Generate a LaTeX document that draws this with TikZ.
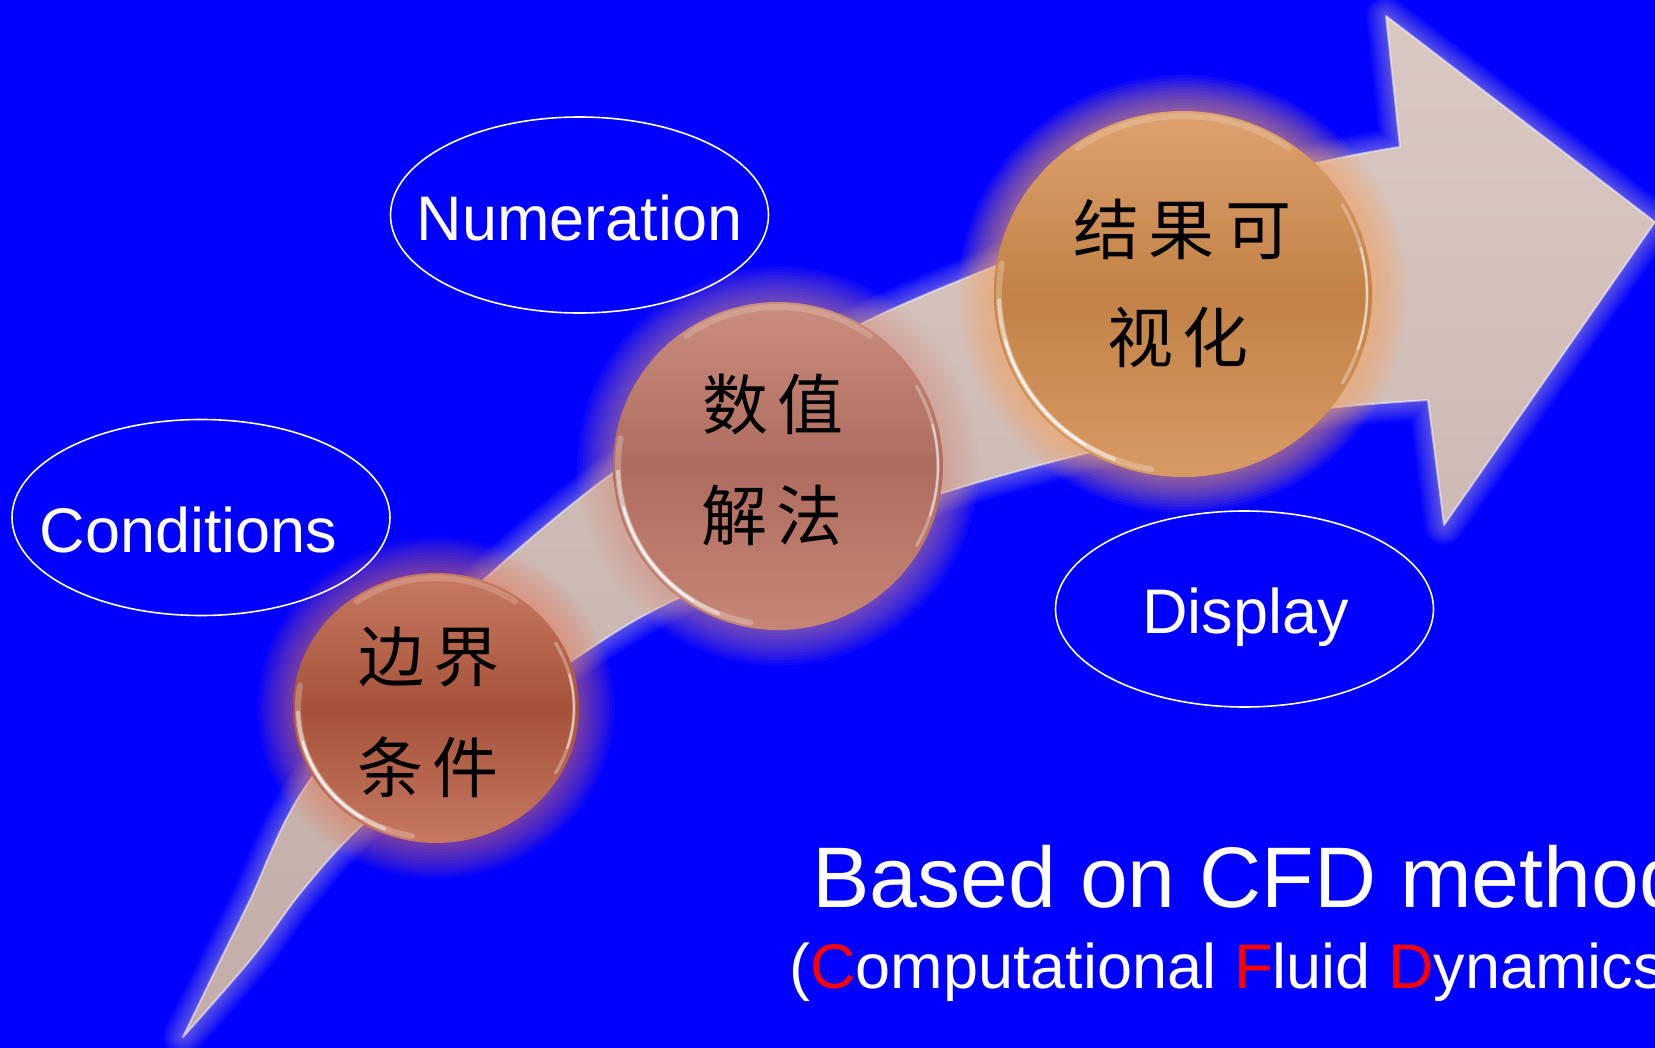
\documentclass[tikz,border=0pt]{standalone}
\usepackage{fontspec}
\setmainfont{Liberation Sans}
\newfontfamily\cjk{Noto Sans CJK SC}
\usetikzlibrary{shapes.geometric}
\definecolor{bgblue}{RGB}{0,0,255}
\definecolor{arrtop}{RGB}{218,200,194}
\definecolor{arrbot}{RGB}{194,172,167}
\definecolor{arrglow}{RGB}{215,195,205}
\definecolor{gA}{RGB}{235,125,95}
\definecolor{gB}{RGB}{225,150,135}
\definecolor{gC}{RGB}{250,165,100}
\definecolor{aTop}{RGB}{200,122,98}
\definecolor{aMid}{RGB}{166,82,58}
\definecolor{aBot}{RGB}{198,120,96}
\definecolor{bTop}{RGB}{202,142,126}
\definecolor{bMid}{RGB}{174,108,94}
\definecolor{bBot}{RGB}{198,134,118}
\definecolor{cTop}{RGB}{222,162,112}
\definecolor{cMid}{RGB}{194,130,70}
\definecolor{cBot}{RGB}{216,154,100}
\tikzset{
  disc/.style={ellipse, inner sep=0pt},
  oval/.style={ellipse, draw=white, line width=0.8pt, inner sep=0pt, minimum width=189pt, minimum height=98pt},
  lab/.style={anchor=base, text=white, inner sep=0pt, font=\fontsize{31.5pt}{32pt}\selectfont},
  cn/.style={text=black, inner sep=0pt, font=\cjk\fontsize{33pt}{33pt}\selectfont},
  hl/.style={draw=white, line width=1.6pt, line cap=round},
}
\def\arrowpath{plot[smooth,tension=0.55] coordinates {(183,1037) (217,967) (250,900) (300,795) (395,672) (487,577) (610,475) (737,395) (863,323) (993,267) (1150,208) (1317,163) (1400,147)} -- (1386,16) -- (1655,222) -- (1444,525) -- plot[smooth,tension=0.55] coordinates {(1428,400) (1330,408) (1210,427) (1087,453) (943,493) (800,546) (660,607) (573,660) (460,740) (360,827) (302,891) (252,958) (183,1037)} -- cycle}
\begin{document}
\begin{tikzpicture}[x=0.5pt,y=-0.5pt]
\useasboundingbox (0,0) rectangle (1655,1048);
\clip (0,0) rectangle (1655,1048);
\fill[bgblue] (0,0) rectangle (1655,1048);
% arrow glow
\foreach \w in {20,18,...,2} {
  \draw[line width=\w pt, draw=arrglow, draw opacity=0.05, line join=round] \arrowpath;
}
% arrow body
\path[top color=arrtop, bottom color=arrbot] \arrowpath;
\draw[draw=white, draw opacity=0.5, line width=1pt, line join=round] \arrowpath;
% circle glows
\foreach \w in {36,33,...,3} {
  \draw[line width=\w pt, draw=gA, draw opacity=0.055] (436,708) ellipse [x radius=143, y radius=135];
  \draw[line width=\w pt, draw=gB, draw opacity=0.055] (778,466) ellipse [x radius=165, y radius=164];
  \draw[line width=\w pt, draw=gC, draw opacity=0.065] (1183,294) ellipse [x radius=189, y radius=183];
}
% discs
\node[disc, minimum width=143pt, minimum height=135pt, top color=aTop, bottom color=aBot, middle color=aMid] (c1) at (436,708) {};
\node[disc, minimum width=165pt, minimum height=164pt, top color=bTop, bottom color=bBot, middle color=bMid] (c2) at (778,466) {};
\node[disc, minimum width=189pt, minimum height=183pt, top color=cTop, bottom color=cBot, middle color=cMid] (c3) at (1183,294) {};
% highlights (tikz angles: flipped y)
\foreach \cx/\cy/\rx/\ry in {436/708/138/130, 778/466/160/159, 1183/294/184/178} {
  \draw[hl, draw opacity=0.25, line width=3pt] (\cx,\cy) ++(100:{\rx} and {\ry}) arc[start angle=100, end angle=190, x radius=\rx, y radius=\ry];
  \draw[hl, draw opacity=0.45, line width=2pt] (\cx,\cy) ++(112:{\rx} and {\ry}) arc[start angle=112, end angle=178, x radius=\rx, y radius=\ry];
  \draw[hl, draw opacity=0.75, line width=1.2pt] (\cx,\cy) ++(122:{\rx} and {\ry}) arc[start angle=122, end angle=165, x radius=\rx, y radius=\ry];
  \draw[hl, draw opacity=0.3, line width=1.6pt] (\cx,\cy) ++(-30:{\rx} and {\ry}) arc[start angle=-30, end angle=30, x radius=\rx, y radius=\ry];
  \draw[hl, draw opacity=0.5, line width=1pt] (\cx,\cy) ++(-15:{\rx} and {\ry}) arc[start angle=-15, end angle=18, x radius=\rx, y radius=\ry];
  \draw[hl, draw opacity=0.18, line width=3pt] (\cx,\cy) ++(-55:{\rx} and {\ry}) arc[start angle=-55, end angle=-125, x radius=\rx, y radius=\ry];
}
% CJK text
\node[cn] (t1a) at (429,657) {边\hspace{5pt}界};
\node[cn] (t1b) at (428,767) {条\hspace{5pt}件};
\node[cn] (t2a) at (773,404) {数\hspace{5pt}值};
\node[cn] (t2b) at (772,515) {解\hspace{5pt}法};
\node[cn] (t3a) at (1182,229) {结\hspace{5pt}果\hspace{5pt}可};
\node[cn] (t3b) at (1178,337) {视\hspace{5pt}化};
% ovals
\node[oval] (e1) at (579.5,215) {};
\node[oval] (e2) at (201,517.5) {};
\node[oval] (e3) at (1244.5,609) {};
\node[lab] (l1) at (579.5,241) {Numeration};
\node[lab] (l2) at (188.4,552) {Conditions};
\node[lab] (l3) at (1245.5,633) {Display};
% bottom text
\node[anchor=base west, text=white, inner sep=0pt, font=\fontsize{43pt}{43pt}\selectfont] (title) at (812,907) {Based on CFD method};
\node[anchor=base west, text=white, inner sep=0pt, font=\fontsize{31.5pt}{32pt}\selectfont] (sub) at (789,988) {(\textcolor{red}{C}omputational \textcolor{red}{F}luid \textcolor{red}{D}ynamics)};
\end{tikzpicture}
\end{document}
